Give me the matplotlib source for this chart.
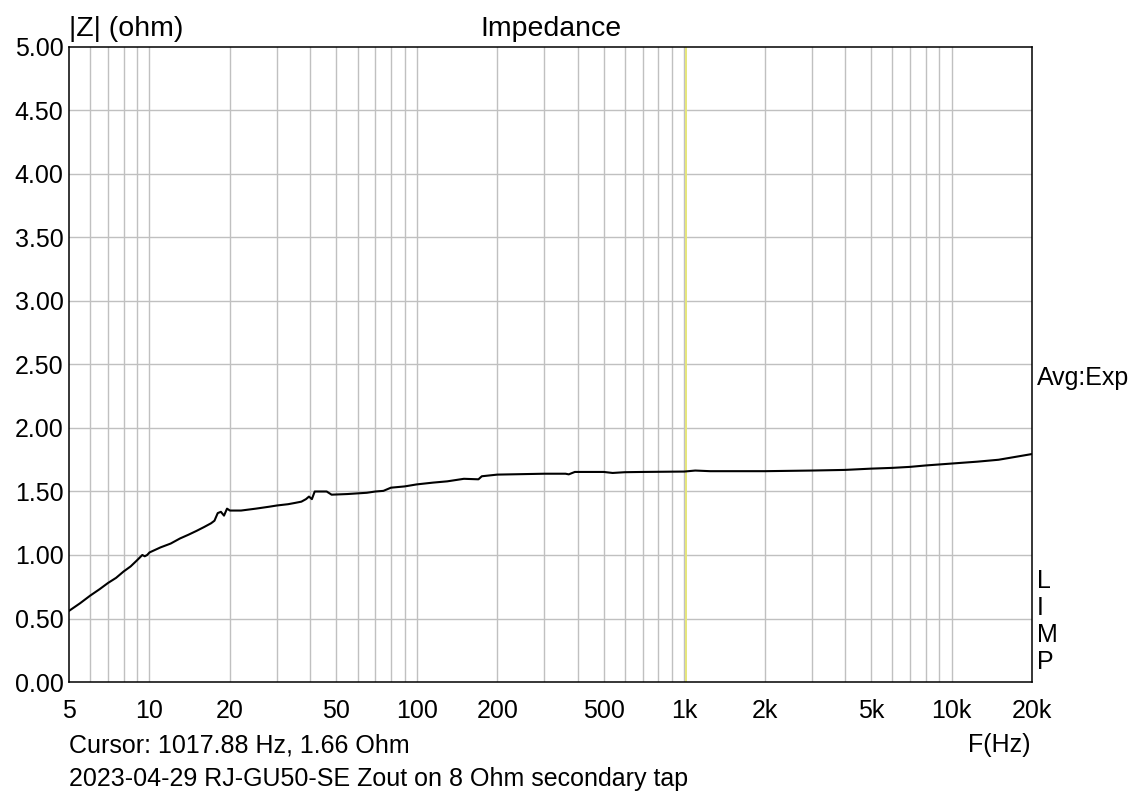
import matplotlib
matplotlib.use("Agg")
import matplotlib.pyplot as plt
from matplotlib.ticker import FixedLocator, NullFormatter

plt.rcParams['font.family'] = ['Liberation Sans', 'DejaVu Sans']

freq_hz = [5, 5.5, 6, 6.5, 7, 7.5, 8, 8.5, 9, 9.4, 9.6, 9.8, 10, 11, 12, 13, 14, 15,
           16, 17, 17.5, 18, 18.5, 19, 19.5, 20, 22, 25, 28, 30, 33, 35, 37, 38.5,
           39.5, 40.5, 41.5, 46, 48, 55, 65, 70, 75, 80, 90, 100, 115, 130, 150,
           170, 175, 200, 300, 360, 370, 390, 500, 540, 600, 700, 1000, 1100, 1250,
           2000, 3000, 4000, 5000, 6000, 7000, 8000, 10000, 12500, 15000, 20000]
impedance_ohm = [0.56, 0.62, 0.68, 0.73, 0.78, 0.82, 0.87, 0.91, 0.96, 1.00, 0.99, 1.00,
                 1.02, 1.06, 1.09, 1.13, 1.16, 1.19, 1.22, 1.25, 1.27, 1.33, 1.34, 1.31,
                 1.365, 1.35, 1.35, 1.365, 1.38, 1.39, 1.40, 1.41, 1.42, 1.44, 1.46,
                 1.44, 1.50, 1.50, 1.475, 1.48, 1.49, 1.50, 1.505, 1.53, 1.54, 1.556,
                 1.57, 1.58, 1.60, 1.596, 1.62, 1.633, 1.64, 1.64, 1.635, 1.654, 1.654,
                 1.646, 1.652, 1.654, 1.657, 1.665, 1.66, 1.66, 1.665, 1.67, 1.68,
                 1.686, 1.694, 1.705, 1.72, 1.735, 1.75, 1.795]

x_ticks = [5, 10, 20, 50, 100, 200, 500, 1000, 2000, 5000, 10000, 20000]
x_tick_labels = ['5', '10', '20', '50', '100', '200', '500', '1k', '2k', '5k', '10k', '20k']
y_ticks = [0, 0.5, 1.0, 1.5, 2.0, 2.5, 3.0, 3.5, 4.0, 4.5, 5.0]
y_tick_labels = ['%.2f' % v for v in y_ticks]
cursor_hz = 1017.88
cursor_ohm = 1.66

W, H = 1137, 792
fig = plt.figure(figsize=(W / 100, H / 100), dpi=100)
ax = fig.add_axes([69 / W, (H - 682) / H, (1032 - 69) / W, (682 - 47) / H])

ax.set_xscale('log')
ax.set_xlim(5, 20000)
ax.set_ylim(0, 5)

grid_color = '#c0c0c0'
# vertical grid: every 1..9 x decade
grid_x = [m * 10 ** d for d in range(0, 5) for m in range(1, 10)]
grid_x = [g for g in grid_x if 5 < g < 20000]
for g in grid_x:
    ax.axvline(g, color=grid_color, lw=1.0, zorder=1)
for v in y_ticks[1:-1]:
    ax.axhline(v, color=grid_color, lw=1.0, zorder=1)

ax.axvline(cursor_hz, color='#e6e67a', lw=1.4, zorder=2)

ax.plot(freq_hz, impedance_ohm, color='black', lw=1.5, zorder=3)

ax.xaxis.set_major_locator(FixedLocator(x_ticks))
ax.xaxis.set_minor_locator(FixedLocator([]))
ax.xaxis.set_minor_formatter(NullFormatter())
ax.set_xticks(x_ticks)
ax.set_xticklabels(x_tick_labels)
ax.set_yticks(y_ticks)
ax.set_yticklabels(y_tick_labels)
ax.tick_params(axis='both', length=0, labelsize=18, colors='black')
ax.tick_params(axis='x', pad=12)
ax.tick_params(axis='y', pad=4)

for s in ax.spines.values():
    s.set_color('black')
    s.set_linewidth(1.1)

fs = 18
fs_top = 20.5
fig.text(69 / W, 1 - 36 / H, '|Z| (ohm)', ha='left', va='baseline', fontsize=fs_top)
fig.text((69 + 1032) / 2 / W, 1 - 36 / H, 'Impedance', ha='center', va='baseline', fontsize=fs_top)
ax.text(1.005, 0.479, 'Avg:Exp', transform=ax.transAxes, ha='left', va='center', fontsize=fs)
for i, ch in enumerate('LIMP'):
    ax.text(1.005, 0.159 - i * 0.0425, ch, transform=ax.transAxes, ha='left', va='center', fontsize=fs)

fig.text(69 / W, 1 - 745 / H, 'Cursor: %.2f Hz, %.2f Ohm' % (cursor_hz, cursor_ohm),
         ha='left', va='center', fontsize=fs)
fig.text(1031 / W, 1 - 745 / H, 'F(Hz)', ha='right', va='center', fontsize=fs)
fig.text(69 / W, 1 - 779 / H, '2023-04-29 RJ-GU50-SE Zout on 8 Ohm secondary tap',
         ha='left', va='center', fontsize=fs)

fig.savefig('out.png', dpi=100)
